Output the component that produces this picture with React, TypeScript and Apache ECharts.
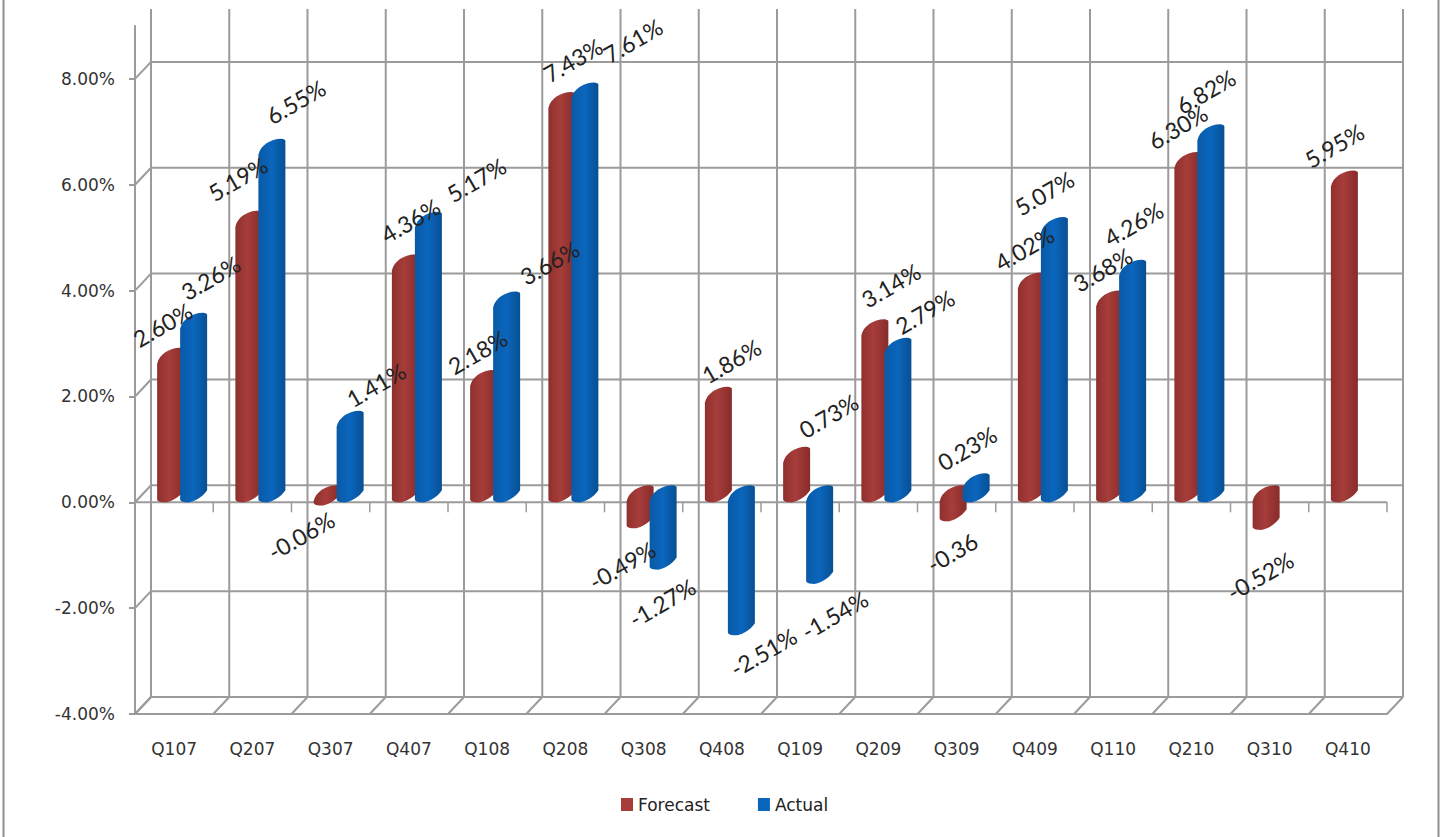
import React, { useEffect, useRef } from "react";
import * as echarts from "echarts";

const quarters = ["Q107", "Q207", "Q307", "Q407", "Q108", "Q208", "Q308", "Q408", "Q109", "Q209", "Q309", "Q409", "Q110", "Q210", "Q310", "Q410"];
const forecastValues = [2.6, 5.19, -0.06, 4.36, 2.18, 7.43, -0.49, 1.86, 0.73, 3.14, -0.36, 4.02, 3.68, 6.3, -0.52, 5.95];
const actualValues = [3.26, 6.55, 1.41, 5.17, 3.66, 7.61, -1.27, -2.51, -1.54, 2.79, 0.23, 5.07, 4.26, 6.82, null, null];
const valueTicks = [-4, -2, 0, 2, 4, 6, 8];

// The one label on the chart that was typed without its percent sign.
const forecastLabelOverrides: Record<number, string> = { 10: "-0.36" };

// Hand placement of the value labels, as [dx, dy] from the top of each cylinder.
const forecastLabelOffsets = [[-8, -40], [-11, -49], [-26, 30], [5, -51], [-6, -35], [11, -49], [-18, 37], [13, -43], [32, -48], [16, -51], [-1, 31], [-7, -41], [-7, -38], [-10, -42], [-6, 46], [-10, -42]];
const actualLabelOffsets = [[17, -52], [24, -54], [26, -43], [48, -49], [43, -46], [48, -59], [-1, 33], [22, 17], [15, 31], [27, -43], [-9, -42], [-10, -41], [1, -53], [-5, -50], [0, 0], [0, 0]];

// Oblique projection of the chart box: the back wall sits this far from the front plane.
const DEPTH_X = 16;
const DEPTH_Y = -17;
const CYLINDER_W = 27;
const FORECAST_LEFT = -17;
const ACTUAL_LEFT = 6;

const WALL = "#9b9b9b";
const AXIS_FONT = "DejaVu Sans";
const LABEL_FONT = "Lato";

const redStops = [
  { offset: 0, color: "#8f302e" },
  { offset: 0.45, color: "#a63d3a" },
  { offset: 1, color: "#872c2b" },
];
const blueStops = [
  { offset: 0, color: "#0a5aa6" },
  { offset: 0.5, color: "#0a66bd" },
  { offset: 1, color: "#084f93" },
];

const line = (x1: number, y1: number, x2: number, y2: number, lineWidth = 2) => ({
  type: "line",
  silent: true,
  shape: { x1, y1, x2, y2 },
  style: { stroke: WALL, lineWidth, fill: "none" },
});

// Back wall, left wall, floor and the zero plane of the box.
function renderWalls(params: any, api: any) {
  const { x, width } = params.coordSys;
  const bandW = api.size([1, 0])[0];
  const top = params.coordSys.y;
  const bottom = api.coord([0, valueTicks[0]])[1];
  const children: any[] = [];

  for (let k = 0; k <= quarters.length; k++) {
    const fx = x + k * bandW;
    children.push(line(fx + DEPTH_X, top + DEPTH_Y, fx + DEPTH_X, bottom + DEPTH_Y));
    children.push(line(fx, bottom, fx + DEPTH_X, bottom + DEPTH_Y));
  }
  for (const v of valueTicks) {
    const y = api.coord([0, v])[1];
    children.push(line(x + DEPTH_X, y + DEPTH_Y, x + width + DEPTH_X, y + DEPTH_Y));
    children.push(line(x, y, x + DEPTH_X, y + DEPTH_Y));
  }

  const zeroY = api.coord([0, 0])[1];
  children.push(line(x, zeroY, x + width, zeroY));
  for (let k = 0; k <= quarters.length; k++) {
    children.push(line(x + k * bandW, zeroY, x + k * bandW, zeroY + 10, 1.5));
  }
  return { type: "group", children };
}

// One cylinder lying between the zero plane and its value, with slanted elliptical ends.
const renderCylinder = (leftOffset: number, stops: any[]) => (_params: any, api: any) => {
  const value = api.value(1);
  if (value == null || Number.isNaN(value)) return null;
  const [cx, yValue] = api.coord([api.value(0), value]);
  const yZero = api.coord([api.value(0), 0])[1];
  const upper = Math.min(yValue, yZero);
  const lower = Math.max(yValue, yZero);
  const xL = cx + leftOffset;
  const xR = xL + CYLINDER_W;
  const h = -DEPTH_Y;
  const d = [
    `M ${xL} ${lower - 3}`,
    `L ${xL} ${upper - 1}`,
    `C ${xL + 2} ${upper - h * 0.6} ${xL + 12} ${upper - h} ${xR - 4} ${upper - h}`,
    `C ${xR - 2} ${upper - h} ${xR} ${upper - h + 1} ${xR} ${upper - h + 2}`,
    `L ${xR} ${lower - 12}`,
    `C ${xR - 5} ${lower - 4} ${xL + 11} ${lower + 1} ${xL + 6} ${lower}`,
    `C ${xL + 3} ${lower} ${xL} ${lower - 1} ${xL} ${lower - 3}`,
    "Z",
  ].join(" ");
  return {
    type: "path",
    shape: { pathData: d },
    style: { fill: new echarts.graphic.LinearGradient(0, 0, 1, 0, stops) },
  };
};

// Rotated value label set by hand near the top of a cylinder.
const renderValueLabel = (leftOffset: number, offsets: number[][], overrides: Record<number, string>) => (_params: any, api: any) => {
  const value = api.value(1);
  if (value == null || Number.isNaN(value)) return null;
  const k = api.value(0);
  const [cx, yValue] = api.coord([k, value]);
  const [dx, dy] = offsets[k];
  return {
    type: "text",
    x: cx + leftOffset + CYLINDER_W / 2 + dx,
    y: yValue + dy,
    rotation: Math.PI / 6,
    style: {
      text: overrides[k] ?? `${value.toFixed(2)}%`,
      font: `23px ${LABEL_FONT}`,
      fill: "#222222",
      align: "center",
      verticalAlign: "middle",
    },
  };
};

const rows = (values: (number | null)[]) => values.map((v, k) => [k, v]);

export default function App() {
  const ref = useRef<HTMLDivElement>(null);

  useEffect(() => {
    const chart = echarts.init(ref.current!, null, { renderer: "svg" });
    chart.setOption({
      animation: false,
      backgroundColor: "#ffffff",
      grid: { left: 135, top: 26, width: 1252, height: 688, containLabel: false },
      xAxis: {
        type: "category",
        data: quarters,
        boundaryGap: true,
        axisLine: { onZero: false, lineStyle: { color: WALL, width: 2 } },
        axisTick: { show: false },
        splitLine: { show: false },
        axisLabel: { interval: 0, margin: 26, color: "#333333", fontFamily: AXIS_FONT, fontSize: 17 },
      },
      yAxis: {
        type: "value",
        min: -4,
        max: 9,
        interval: 2,
        axisLine: { show: true, lineStyle: { color: WALL, width: 2 } },
        axisTick: { show: true, length: 6, customValues: valueTicks, lineStyle: { color: WALL, width: 2 } },
        splitLine: { show: false },
        axisLabel: {
          customValues: valueTicks,
          margin: 20,
          color: "#333333",
          fontFamily: AXIS_FONT,
          fontSize: 17,
          formatter: (v: number) => `${v.toFixed(2)}%`,
        },
      },
      legend: {
        data: ["Forecast", "Actual"],
        left: 621,
        top: 796,
        padding: 0,
        icon: "rect",
        itemWidth: 12,
        itemHeight: 13,
        itemGap: 48,
        textStyle: { color: "#222222", fontFamily: AXIS_FONT, fontSize: 17 },
      },
      graphic: [
        { type: "line", shape: { x1: 3.5, y1: 0, x2: 3.5, y2: 837 }, style: { stroke: "#8f8f8f", lineWidth: 2 } },
        { type: "line", shape: { x1: 1438.5, y1: 0, x2: 1438.5, y2: 837 }, style: { stroke: "#8f8f8f", lineWidth: 2 } },
      ],
      series: [
        { name: "Walls", type: "custom", z: 1, silent: true, data: [[0, 0]], encode: { x: 0, y: 1 }, renderItem: renderWalls },
        {
          name: "Forecast",
          type: "custom",
          z: 2,
          itemStyle: { color: "#a63d3a" },
          data: rows(forecastValues),
          encode: { x: 0, y: 1 },
          renderItem: renderCylinder(FORECAST_LEFT, redStops),
        },
        {
          name: "Actual",
          type: "custom",
          z: 3,
          itemStyle: { color: "#0a66bd" },
          data: rows(actualValues),
          encode: { x: 0, y: 1 },
          renderItem: renderCylinder(ACTUAL_LEFT, blueStops),
        },
        {
          name: "Forecast labels",
          type: "custom",
          z: 4,
          silent: true,
          data: rows(forecastValues),
          encode: { x: 0, y: 1 },
          renderItem: renderValueLabel(FORECAST_LEFT, forecastLabelOffsets, forecastLabelOverrides),
        },
        {
          name: "Actual labels",
          type: "custom",
          z: 4,
          silent: true,
          data: rows(actualValues),
          encode: { x: 0, y: 1 },
          renderItem: renderValueLabel(ACTUAL_LEFT, actualLabelOffsets, {}),
        },
      ],
    });
    return () => chart.dispose();
  }, []);

  return <div ref={ref} style={{ position: "absolute", left: 0, top: 0, width: 1443, height: 837 }} />;
}
